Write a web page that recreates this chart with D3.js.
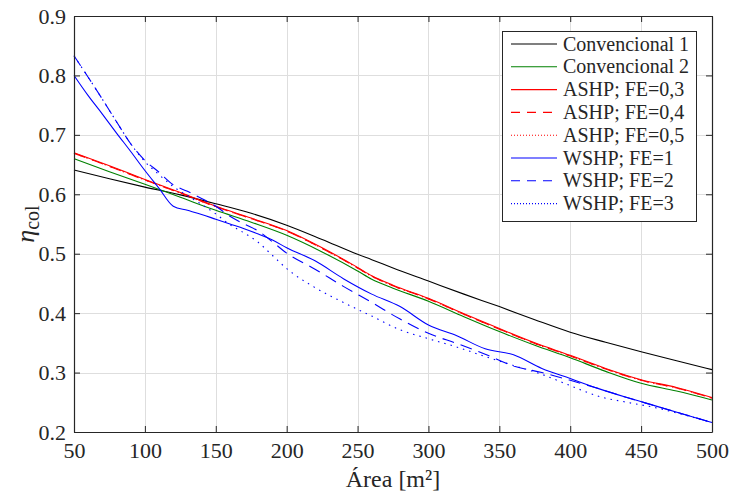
<!DOCTYPE html>
<html>
<head>
<meta charset="utf-8">
<script src="https://cdn.jsdelivr.net/npm/d3@7"></script>
<style>
  html, body { margin: 0; padding: 0; background: #fff; }
  svg { display: block; font-family: "Liberation Serif", "Times New Roman", serif; }
</style>
</head>
<body>
<svg id="chart" width="731" height="494"></svg>
<script>
// Collector efficiency vs. collector area for each heating system
const xTicks = [50, 100, 150, 200, 250, 300, 350, 400, 450, 500];
const yTicks = [0.2, 0.3, 0.4, 0.5, 0.6, 0.7, 0.8, 0.9];

// Area grid for the conventional and air-source heat pump cases
const areaA = [50, 75, 100, 125, 150, 175, 200, 225, 250, 260, 275, 300, 325, 350, 375, 400, 425, 450, 475, 500];
const conv1 = [0.641, 0.626, 0.612, 0.599, 0.584, 0.568, 0.548, 0.524, 0.499, 0.490, 0.476, 0.454, 0.432, 0.411, 0.389, 0.368, 0.351, 0.335, 0.320, 0.305];
const conv2 = [0.660, 0.638, 0.617, 0.595, 0.573, 0.553, 0.531, 0.503, 0.471, 0.457, 0.442, 0.420, 0.394, 0.369, 0.346, 0.325, 0.302, 0.282, 0.269, 0.254];
const ashp03 = [0.670, 0.648, 0.625, 0.603, 0.580, 0.560, 0.539, 0.510, 0.477, 0.463, 0.447, 0.425, 0.399, 0.374, 0.350, 0.329, 0.307, 0.288, 0.275, 0.258];
const ashp04 = [0.669, 0.647, 0.624, 0.602, 0.579, 0.559, 0.538, 0.509, 0.476, 0.462, 0.446, 0.424, 0.398, 0.373, 0.349, 0.328, 0.306, 0.287, 0.274, 0.257];
const ashp05 = [0.669, 0.647, 0.624, 0.602, 0.579, 0.559, 0.538, 0.509, 0.476, 0.462, 0.446, 0.424, 0.398, 0.373, 0.349, 0.328, 0.306, 0.287, 0.274, 0.257];

// Area grid for the water-source heat pump cases
const areaW = [50, 60, 70, 80, 90, 100, 110, 120, 130, 140, 150, 160, 170, 180, 190, 200, 220, 240, 260, 280, 300, 320, 340, 360, 380, 400, 420, 440, 460, 480, 500];
const wshp1 = [0.800, 0.766, 0.735, 0.703, 0.672, 0.640, 0.610, 0.580, 0.573, 0.566, 0.558, 0.550, 0.542, 0.533, 0.523, 0.510, 0.488, 0.458, 0.432, 0.411, 0.380, 0.362, 0.340, 0.330, 0.307, 0.290, 0.273, 0.258, 0.244, 0.230, 0.216];
const wshp2 = [0.833, 0.797, 0.760, 0.722, 0.685, 0.657, 0.637, 0.616, 0.605, 0.593, 0.580, 0.563, 0.550, 0.538, 0.520, 0.501, 0.474, 0.445, 0.418, 0.390, 0.366, 0.349, 0.331, 0.311, 0.300, 0.287, 0.273, 0.258, 0.244, 0.230, 0.216];
const wshp3 = [0.833, 0.797, 0.760, 0.722, 0.685, 0.655, 0.633, 0.613, 0.598, 0.583, 0.567, 0.549, 0.535, 0.519, 0.497, 0.475, 0.443, 0.418, 0.395, 0.372, 0.357, 0.343, 0.327, 0.312, 0.297, 0.278, 0.260, 0.250, 0.241, 0.229, 0.216];

const seriesNames = ["Convencional 1", "Convencional 2", "ASHP; FE=0,3", "ASHP; FE=0,4", "ASHP; FE=0,5", "WSHP; FE=1", "WSHP; FE=2", "WSHP; FE=3"];

const series = [
  { name: seriesNames[0], x: areaA, y: conv1,  color: "#000000", dash: null,    legDash: null },
  { name: seriesNames[1], x: areaA, y: conv2,  color: "#008000", dash: null,    legDash: null },
  { name: seriesNames[4], x: areaA, y: ashp05, color: "#ff0000", dash: "1.5,5", legDash: "1,2" },
  { name: seriesNames[3], x: areaA, y: ashp04, color: "#ff0000", dash: "12,7",  legDash: "9,7" },
  { name: seriesNames[2], x: areaA, y: ashp03, color: "#ff0000", dash: null,    legDash: null },
  { name: seriesNames[7], x: areaW, y: wshp3,  color: "#0000ff", dash: "1.5,5", legDash: "1,2" },
  { name: seriesNames[6], x: areaW, y: wshp2,  color: "#0000ff", dash: "12,7",  legDash: "9,7" },
  { name: seriesNames[5], x: areaW, y: wshp1,  color: "#0000ff", dash: null,    legDash: null }
];

const svg = d3.select("#chart");
const margin = { left: 74, right: 19, top: 16, bottom: 62 };
const W = 731, H = 494;
const x = d3.scaleLinear().domain([50, 500]).range([margin.left, W - margin.right]);
const y = d3.scaleLinear().domain([0.2, 0.9]).range([H - margin.bottom, margin.top]);

const axisColor = "#262626";
const x0 = x.range()[0], x1 = x.range()[1], y0 = y.range()[0], y1 = y.range()[1];

// grid
const grid = svg.append("g").attr("stroke", "#dedede").attr("stroke-width", 1);
grid.selectAll(".gx").data(xTicks.slice(1, -1)).join("line")
  .attr("x1", d => Math.round(x(d)) + 0.5).attr("x2", d => Math.round(x(d)) + 0.5)
  .attr("y1", y1).attr("y2", y0);
grid.selectAll(".gy").data(yTicks.slice(1, -1)).join("line")
  .attr("x1", x0).attr("x2", x1)
  .attr("y1", d => Math.round(y(d)) + 0.5).attr("y2", d => Math.round(y(d)) + 0.5);

// data lines
const plot = svg.append("g");
series.forEach(s => {
  const pts = s.x.map((a, i) => [a, s.y[i]]);
  const line = d3.line().x(d => x(d[0])).y(d => y(d[1])).curve(d3.curveMonotoneX);
  plot.append("path")
    .attr("d", line(pts))
    .attr("fill", "none")
    .attr("stroke", s.color)
    .attr("stroke-width", 1.1)
    .attr("stroke-dasharray", s.dash);
});

// axes with inward ticks
const tickLen = 6;
const xAxisB = d3.axisBottom(x).tickValues(xTicks).tickSizeInner(-tickLen).tickSizeOuter(0).tickPadding(10).tickFormat(d3.format("d"));
const xAxisT = d3.axisTop(x).tickValues(xTicks).tickSizeInner(-tickLen).tickSizeOuter(0).tickFormat("");
const yAxisL = d3.axisLeft(y).tickValues(yTicks).tickSizeInner(-tickLen).tickSizeOuter(0).tickPadding(8).tickFormat(d3.format(".1f"));
const yAxisR = d3.axisRight(y).tickValues(yTicks).tickSizeInner(-tickLen).tickSizeOuter(0).tickFormat("");

function styleAxis(g) {
  g.select(".domain").attr("stroke", axisColor).attr("stroke-width", 1.2);
  g.selectAll(".tick line").attr("stroke", axisColor).attr("stroke-width", 1);
  g.selectAll(".tick text").attr("fill", axisColor).style("font-size", "22px")
    .style("font-family", "'Liberation Serif', 'Times New Roman', serif");
}
svg.append("g").attr("transform", `translate(0,${y0})`).call(xAxisB).call(styleAxis);
svg.append("g").attr("transform", `translate(0,${y1})`).call(xAxisT).call(styleAxis);
svg.append("g").attr("transform", `translate(${x0},0)`).call(yAxisL).call(styleAxis);
svg.append("g").attr("transform", `translate(${x1},0)`).call(yAxisR).call(styleAxis);

// axis titles
svg.append("text")
  .attr("x", (x0 + x1) / 2).attr("y", 487)
  .attr("text-anchor", "middle").attr("fill", axisColor)
  .style("font-size", "24px")
  .text("Área [m²]");

const yl = svg.append("text")
  .attr("transform", `translate(34,${(y0 + y1) / 2}) rotate(-90)`)
  .attr("text-anchor", "middle").attr("fill", axisColor)
  .style("font-size", "26px");
yl.append("tspan").style("font-style", "italic").text("η");
yl.append("tspan").attr("dy", 5).style("font-size", "20px").text("col");

// legend
const legX = 502, legY = 31, legW = 194, legH = 190, rowH = 22.8;
const leg = svg.append("g");
leg.append("rect").attr("x", legX + 0.5).attr("y", legY + 0.5).attr("width", legW).attr("height", legH)
  .attr("fill", "#fff").attr("stroke", "#262626").attr("stroke-width", 1);
const legOrder = ["Convencional 1", "Convencional 2", "ASHP; FE=0,3", "ASHP; FE=0,4", "ASHP; FE=0,5", "WSHP; FE=1", "WSHP; FE=2", "WSHP; FE=3"];
legOrder.forEach((name, i) => {
  const s = series.find(d => d.name === name);
  const cy = legY + 13 + i * rowH;
  leg.append("line").attr("x1", legX + 9).attr("x2", legX + 55).attr("y1", cy).attr("y2", cy)
    .attr("stroke", s.color).attr("stroke-width", 1.1).attr("stroke-dasharray", s.legDash);
  leg.append("text").attr("x", legX + 61).attr("y", cy + 6.5).attr("fill", axisColor)
    .style("font-size", "20px").text(name);
});
</script>
</body>
</html>
